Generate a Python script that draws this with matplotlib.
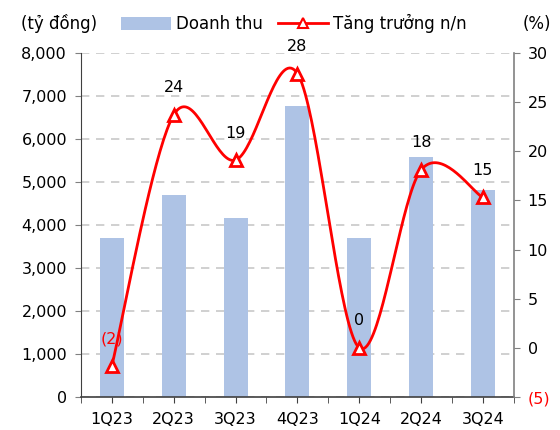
import numpy as np
import matplotlib
matplotlib.use("Agg")
import matplotlib.pyplot as plt
from matplotlib.lines import Line2D
from matplotlib.patches import Patch
from matplotlib.ticker import FuncFormatter, MultipleLocator

plt.rcParams['font.family'] = ['DejaVu Sans']

quarters = ["1Q23", "2Q23", "3Q23", "4Q23", "1Q24", "2Q24", "3Q24"]
revenue = [3700, 4700, 4170, 6760, 3700, 5570, 4810]
growth = [-1.8, 23.7, 19.1, 27.9, 0.0, 18.1, 15.3]
growth_labels = ["(2)", "24", "19", "28", "0", "18", "15"]

bar_color = "#AEC3E5"
red = "#FF0000"
grey = "#808080"


def smooth(xs, ys, n=40):
    # excel-like smoothed line (catmull-rom as cubic bezier)
    pts = np.column_stack([xs, ys]).astype(float)
    ext = np.vstack([pts[0], pts, pts[-1]])
    out = []
    t = np.linspace(0, 1, n)[:, None]
    for i in range(1, len(ext) - 2):
        p0, p1, p2, p3 = ext[i - 1], ext[i], ext[i + 1], ext[i + 2]
        c1 = p1 + (p2 - p0) / 6
        c2 = p2 - (p3 - p1) / 6
        seg = ((1 - t) ** 3) * p1 + 3 * ((1 - t) ** 2) * t * c1 + 3 * (1 - t) * t ** 2 * c2 + t ** 3 * p2
        out.append(seg if i == 1 else seg[1:])
    out = np.vstack(out)
    return out[:, 0], out[:, 1]


fig = plt.figure(figsize=(5.6, 4.3), dpi=100)
ax = fig.add_axes([0.1446, 0.0767, 0.773, 0.8003])
x = np.arange(len(quarters))

ax.bar(x, revenue, width=0.39, color=bar_color, zorder=2)
ax.set_ylim(0, 8000)
ax.set_xlim(-0.5, len(quarters) - 0.5)
ax.yaxis.set_major_locator(MultipleLocator(1000))
ax.yaxis.set_major_formatter(FuncFormatter(lambda v, p: f"{int(v):,}"))
ax.grid(axis="y", linestyle=(0, (5, 4)), color="#C8C8C8", linewidth=1.2, zorder=0)
ax.set_axisbelow(True)
ax.set_xticks(x)
ax.set_xticklabels(quarters)
ax.set_xticks(np.arange(-0.5, len(quarters)), minor=True)
ax.tick_params(axis="x", which="both", length=4, color="#404040", labelsize=11.5, pad=7)
ax.tick_params(axis="y", length=4, color=grey, labelsize=11.5, pad=6)
for s in ["top", "right"]:
    ax.spines[s].set_visible(False)
ax.spines["left"].set_color("#404040")
ax.spines["bottom"].set_color("#404040")
ax.spines["bottom"].set_linewidth(1.2)

ax2 = ax.twinx()
ax2.set_ylim(-5, 30)
ax2.yaxis.set_major_locator(MultipleLocator(5))
ax2.yaxis.set_major_formatter(FuncFormatter(lambda v, p: f"({abs(int(v))})" if v < 0 else f"{int(v)}"))
ax2.tick_params(axis="y", length=4, color=grey, labelsize=11.5, pad=6)
for s in ["top", "left", "bottom"]:
    ax2.spines[s].set_visible(False)
ax2.spines["right"].set_color(grey)
ax2.spines["right"].set_linewidth(1.2)

sx, sy = smooth(x, growth)
ax2.plot(sx, sy, color=red, linewidth=2, zorder=3)
ax2.plot(x, growth, linestyle="none", marker="^", markersize=9, markerfacecolor="white",
         markeredgecolor=red, markeredgewidth=2, zorder=4)
for xi, yi, lab in zip(x, growth, growth_labels):
    ax2.annotate(lab, (xi, yi), xytext=(0, 14), textcoords="offset points", ha="center",
                 va="bottom", fontsize=11.5, color=red if yi < 0 else "black")

fig.canvas.draw()
for lab in ax2.get_yticklabels():
    if lab.get_text().startswith("("):
        lab.set_color(red)

fig.text(0.038, 0.945, "(tỷ đồng)", fontsize=12, va="center", ha="left")
fig.text(0.985, 0.945, "(%)", fontsize=12, va="center", ha="right")
handles = [Patch(facecolor=bar_color, edgecolor="none"),
           Line2D([0], [0], color=red, linewidth=2, marker="^", markersize=7,
                  markerfacecolor="white", markeredgecolor=red, markeredgewidth=1.5)]
fig.legend(handles, ["Doanh thu", "Tăng trưởng n/n"], loc="center", bbox_to_anchor=(0.525, 0.945),
           ncol=2, frameon=False, fontsize=12, handlelength=3.0, handleheight=0.9,
           columnspacing=0.9, handletextpad=0.3)

fig.savefig("out.png", dpi=100)
